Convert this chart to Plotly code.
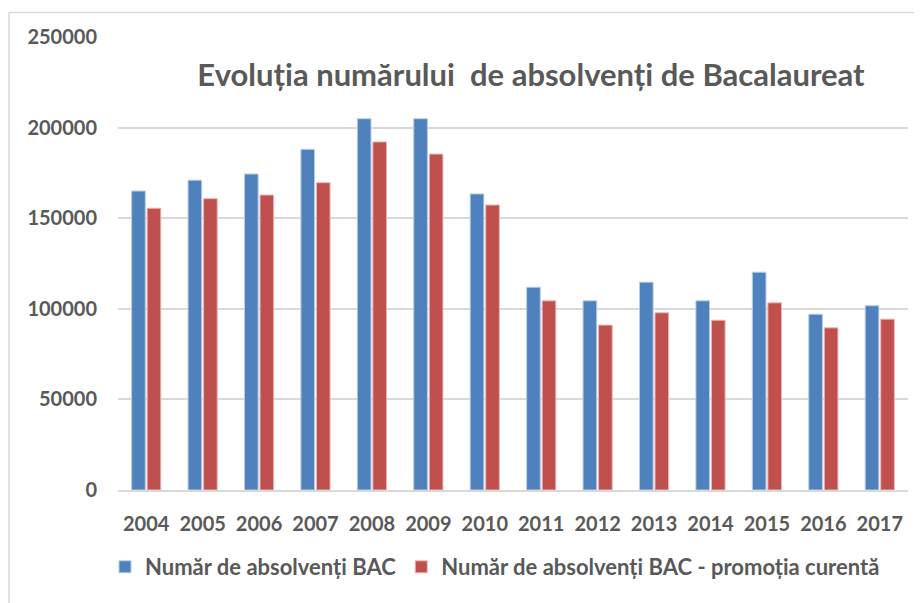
import plotly.graph_objects as go

years = ["2004", "2005", "2006", "2007", "2008", "2009", "2010",
         "2011", "2012", "2013", "2014", "2015", "2016", "2017"]
absolventi_bac = [165000, 171000, 174400, 188000, 204900, 204900, 163400,
                  111900, 104400, 114700, 104400, 120200, 97000, 101700]
absolventi_promotia = [155500, 160800, 162800, 169600, 192100, 185400, 157300,
                       104400, 91000, 97800, 93700, 103300, 89500, 94300]
series_names = ["Număr de absolvenți BAC",
                "Număr de absolvenți BAC - promoția curentă"]
title_text = "Evoluția numărului  de absolvenți de Bacalaureat"
y_ticks = [0, 50000, 100000, 150000, 200000, 250000]

FONT = "Lato"
GRAY = "#595959"

fig = go.Figure()
fig.add_trace(go.Bar(x=years, y=absolventi_bac, name=series_names[0],
                     marker=dict(color="#4F81BD", line=dict(color="#B9CDE5", width=1))))
fig.add_trace(go.Bar(x=years, y=absolventi_promotia, name=series_names[1],
                     marker=dict(color="#C0504D", line=dict(color="#E6B9B8", width=1))))

# page body has an 8px margin, so the figure is 8px smaller than the window
OFF = 8
W, H = 922 - OFF, 603 - OFF
L, T = 118 - OFF, 37 - OFF
R = W - (908 - OFF)
B = H - (490 - OFF)
PW, PH = W - L - R, H - T - B

fig.update_layout(
    width=W, height=H,
    margin=dict(l=L, r=R, t=T, b=B, pad=0),
    paper_bgcolor="white", plot_bgcolor="white",
    barmode="group", bargap=0.45, bargroupgap=0.12,
    font=dict(family=FONT, color=GRAY),
    title=dict(text="<b>" + title_text + "</b>", xref="container", yref="container",
               x=(531 - OFF) / W, xanchor="center", y=1 - (75 - OFF) / H, yanchor="middle",
               font=dict(family=FONT, size=31, color=GRAY)),
    showlegend=True,
    legend=dict(orientation="h", xanchor="left", x=(105 - 118) / PW, yanchor="middle",
                y=-(567 - 490) / PH,
                font=dict(family=FONT, size=22, color=GRAY, weight="bold"),
                itemwidth=30, tracegroupgap=0, bgcolor="rgba(0,0,0,0)"),
    xaxis=dict(showgrid=False, showline=True, linecolor="#D9D9D9", linewidth=1.5,
               ticks="", tickfont=dict(family=FONT, size=20, color=GRAY, weight="bold"),
               ticklabelstandoff=15),
    yaxis=dict(range=[0, 250000], tickvals=y_ticks, showgrid=True,
               gridcolor="#D9D9D9", gridwidth=1.5, zeroline=False, showline=False,
               tickformat="d", ticks="",
               tickfont=dict(family=FONT, size=20, color=GRAY, weight="bold"),
               ticklabelstandoff=20),
    shapes=[
        dict(type="line", xref="paper", yref="paper",
             x0=-(L - 1) / PW, x1=-(L - 1) / PW, y0=-B / PH, y1=1 + (T - 4.5) / PH,
             line=dict(color="#D9D9D9", width=1.5), layer="below"),
        dict(type="line", xref="paper", yref="paper",
             x0=-(L - 1) / PW, x1=1 + R / PW, y0=1 + (T - 4.5) / PH, y1=1 + (T - 4.5) / PH,
             line=dict(color="#D9D9D9", width=1.5), layer="below"),
    ],
)

fig.write_html("out.html")
